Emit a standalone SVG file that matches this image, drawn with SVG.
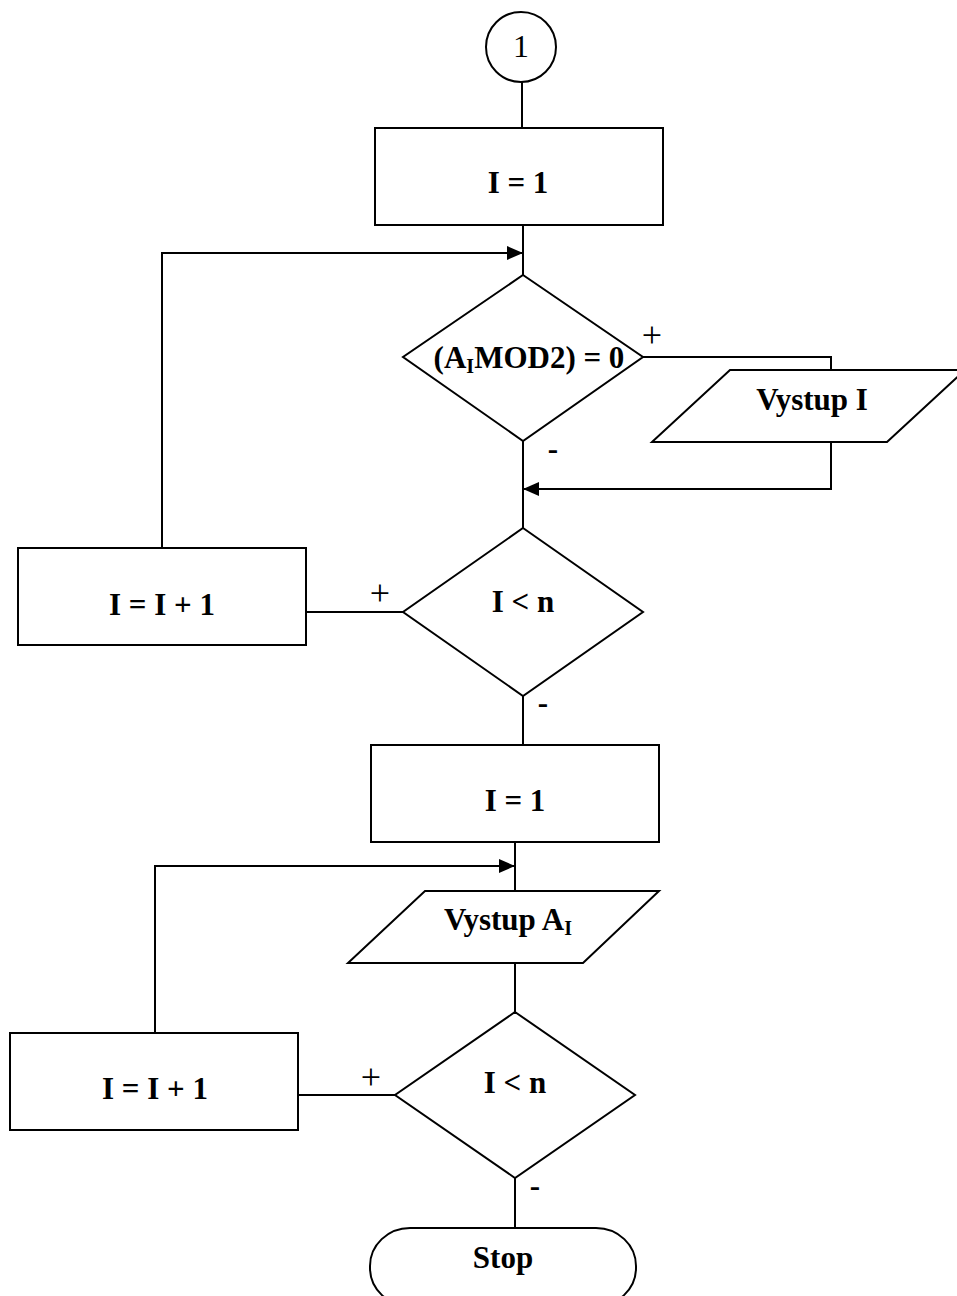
<svg xmlns="http://www.w3.org/2000/svg" width="957" height="1296" viewBox="0 0 957 1296">
  <style>
    .shape { fill: #ffffff; stroke: #000000; stroke-width: 2; }
    .line { fill: none; stroke: #000000; stroke-width: 2; }
    .lbl { font-family: "Liberation Serif", "Times New Roman", serif; font-size: 31px; font-weight: bold; fill: #000000; text-anchor: middle; }
    .sub { font-size: 20px; }
    .sign { font-family: "Liberation Serif", "Times New Roman", serif; font-size: 31px; fill: #000000; text-anchor: middle; }
    .plus { font-size: 36px; }
    .minus { font-weight: bold; }
  </style>
  <defs>
    <marker id="arrow" markerUnits="userSpaceOnUse" markerWidth="17" markerHeight="14" refX="16" refY="7" orient="auto">
      <path d="M0,0 L16,7 L0,14 Z" fill="#000000"/>
    </marker>
  </defs>

  <rect width="957" height="1296" fill="#ffffff"/>

  <!-- connectors -->
  <g id="connectors">
    <line class="line" x1="522" y1="82" x2="522" y2="128"/>
    <line class="line" x1="523" y1="225" x2="523" y2="275"/>
    <path class="line" d="M162,548 L162,253 L523,253" marker-end="url(#arrow)"/>
    <path class="line" d="M643,357 L831,357 L831,370"/>
    <path class="line" d="M831,442 L831,489 L523,489" marker-end="url(#arrow)"/>
    <line class="line" x1="523" y1="440" x2="523" y2="528"/>
    <line class="line" x1="403" y1="612" x2="306" y2="612"/>
    <line class="line" x1="523" y1="696" x2="523" y2="745"/>
    <line class="line" x1="515" y1="842" x2="515" y2="891"/>
    <path class="line" d="M155,1033 L155,866 L515,866" marker-end="url(#arrow)"/>
    <line class="line" x1="515" y1="963" x2="515" y2="1012"/>
    <line class="line" x1="395" y1="1095" x2="298" y2="1095"/>
    <line class="line" x1="515" y1="1178" x2="515" y2="1228"/>
    <text class="sign plus" x="652" y="347">+</text>
    <text class="sign minus" x="553" y="459">-</text>
    <text class="sign plus" x="380" y="605">+</text>
    <text class="sign minus" x="543" y="713">-</text>
    <text class="sign plus" x="371" y="1089">+</text>
    <text class="sign minus" x="535" y="1196">-</text>
  </g>

  <!-- connector 1 -->
  <g id="start-connector">
    <circle class="shape" cx="521" cy="47" r="35"/>
    <text class="sign" x="521" y="57" style="font-size:32px">1</text>
  </g>

  <g id="init-1">
    <rect class="shape" x="375" y="128" width="288" height="97"/>
    <text class="lbl" x="518" y="193">I = 1</text>
  </g>

  <g id="test-even">
    <polygon class="shape" points="523,275 643,357 523,441 403,357"/>
    <text class="lbl" x="529" y="368">(A<tspan class="sub" dy="5">I</tspan><tspan dy="-5">MOD2) = 0</tspan></text>
  </g>

  <g id="output-i">
    <polygon class="shape" points="730,370 965,370 887,442 652,442"/>
    <text class="lbl" x="812" y="410">Vystup I</text>
  </g>

  <g id="test-loop-1">
    <polygon class="shape" points="523,528 643,612 523,696 403,612"/>
    <text class="lbl" x="523" y="612">I &lt; n</text>
  </g>

  <g id="increment-1">
    <rect class="shape" x="18" y="548" width="288" height="97"/>
    <text class="lbl" x="162" y="615">I = I + 1</text>
  </g>

  <g id="init-2">
    <rect class="shape" x="371" y="745" width="288" height="97"/>
    <text class="lbl" x="515" y="811">I = 1</text>
  </g>

  <g id="output-ai">
    <polygon class="shape" points="425,891 659,891 583,963 348,963"/>
    <text class="lbl" x="508" y="930">Vystup A<tspan class="sub" dy="5">I</tspan></text>
  </g>

  <g id="test-loop-2">
    <polygon class="shape" points="515,1012 635,1095 515,1178 395,1095"/>
    <text class="lbl" x="515" y="1093">I &lt; n</text>
  </g>

  <g id="increment-2">
    <rect class="shape" x="10" y="1033" width="288" height="97"/>
    <text class="lbl" x="155" y="1099">I = I + 1</text>
  </g>

  <g id="stop">
    <rect class="shape" x="370" y="1228" width="266" height="78" rx="40" ry="38"/>
    <text class="lbl" x="503" y="1268">Stop</text>
  </g>
</svg>
